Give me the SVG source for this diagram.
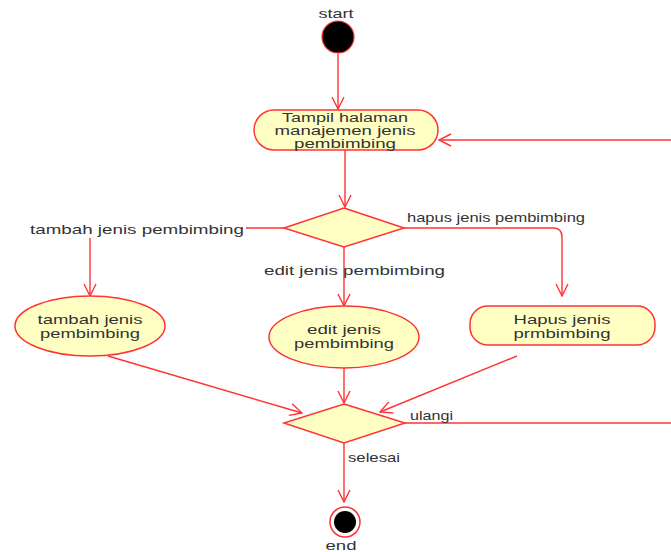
<svg xmlns="http://www.w3.org/2000/svg" width="671" height="552" viewBox="0 0 671 552">
<defs>
<marker id="arr" viewBox="0 0 14 14" refX="13" refY="7" markerWidth="14" markerHeight="14" markerUnits="userSpaceOnUse" orient="auto">
<path d="M1,1 L13,7 L1,13" fill="none" stroke="#ff3333" stroke-width="1.4"/>
</marker>
<style>
.n{fill:#ffffc4;stroke:#ff3333;stroke-width:1.5}
.c{fill:none;stroke:#ff3333;stroke-width:1.4}
.t{font-family:"Liberation Sans",Arial,sans-serif;font-size:13px;fill:#333;text-anchor:middle}
.s{font-size:12px}
.l{font-family:"Liberation Sans",Arial,sans-serif;font-size:13px;fill:#333}
</style>
</defs>
<rect width="671" height="552" fill="#fff"/>
<g id="connectors">
<path class="c" d="M338,54 V109" marker-end="url(#arr)"/>
<path class="c" d="M671,140 H439" marker-end="url(#arr)"/>
<path class="c" d="M345,150 V207" marker-end="url(#arr)"/>
<path class="c" d="M284,228 H246"/>
<path class="c" d="M90,238 V296" marker-end="url(#arr)"/>
<path class="c" d="M344,247 V306" marker-end="url(#arr)"/>
<path class="c" d="M404,228 H553 Q562,228 562,237 V296" marker-end="url(#arr)"/>
<path class="c" d="M108,356 L302,413" marker-end="url(#arr)"/>
<path class="c" d="M344,368 V403" marker-end="url(#arr)"/>
<path class="c" d="M517,356 L380,412" marker-end="url(#arr)"/>
<path class="c" d="M405,423 H671"/>
<path class="c" d="M344,443 V502" marker-end="url(#arr)"/>
<text class="l" x="30" y="234" textLength="214" lengthAdjust="spacingAndGlyphs">tambah jenis pembimbing</text>
<text class="l" x="264" y="275" textLength="181" lengthAdjust="spacingAndGlyphs">edit jenis pembimbing</text>
<text class="l" x="407" y="222" textLength="178" lengthAdjust="spacingAndGlyphs">hapus jenis pembimbing</text>
<text class="l" x="410" y="420" textLength="43" lengthAdjust="spacingAndGlyphs">ulangi</text>
<text class="l" x="348" y="462" textLength="52" lengthAdjust="spacingAndGlyphs">selesai</text>
</g>
<g id="start">
<circle cx="338" cy="37" r="16" fill="#000" stroke="#ff3333" stroke-width="1.2"/>
<text class="t" x="336" y="18" textLength="35" lengthAdjust="spacingAndGlyphs">start</text>
</g>
<g id="tampil">
<rect class="n" x="254" y="110" width="184" height="40" rx="20"/>
<text class="t s" x="345" y="122" textLength="126" lengthAdjust="spacingAndGlyphs">Tampil halaman</text>
<text class="t s" x="345" y="135" textLength="141" lengthAdjust="spacingAndGlyphs">manajemen jenis</text>
<text class="t s" x="345" y="148" textLength="102" lengthAdjust="spacingAndGlyphs">pembimbing</text>
</g>
<g id="decision1">
<polygon class="n" points="344,208 404,228 344,247 284,228"/>
</g>
<g id="tambah">
<ellipse class="n" cx="90" cy="326" rx="75" ry="30"/>
<text class="t" x="90" y="324" textLength="105" lengthAdjust="spacingAndGlyphs">tambah jenis</text>
<text class="t" x="90" y="338" textLength="100" lengthAdjust="spacingAndGlyphs">pembimbing</text>
</g>
<g id="edit">
<ellipse class="n" cx="344" cy="337" rx="75" ry="31"/>
<text class="t" x="344" y="334" textLength="74" lengthAdjust="spacingAndGlyphs">edit jenis</text>
<text class="t" x="344" y="348" textLength="100" lengthAdjust="spacingAndGlyphs">pembimbing</text>
</g>
<g id="hapus">
<rect class="n" x="470" y="306" width="185" height="39" rx="18"/>
<text class="t" x="562" y="324" textLength="97" lengthAdjust="spacingAndGlyphs">Hapus jenis</text>
<text class="t" x="562" y="338" textLength="97" lengthAdjust="spacingAndGlyphs">prmbimbing</text>
</g>
<g id="decision2">
<polygon class="n" points="344,404 405,423 344,443 284,423"/>
</g>
<g id="end">
<circle cx="345" cy="522" r="15" fill="#fff" stroke="#ff3333" stroke-width="1.5"/>
<circle cx="345" cy="522" r="11" fill="#000"/>
<text class="t" x="341" y="550" textLength="31" lengthAdjust="spacingAndGlyphs">end</text>
</g>
</svg>
